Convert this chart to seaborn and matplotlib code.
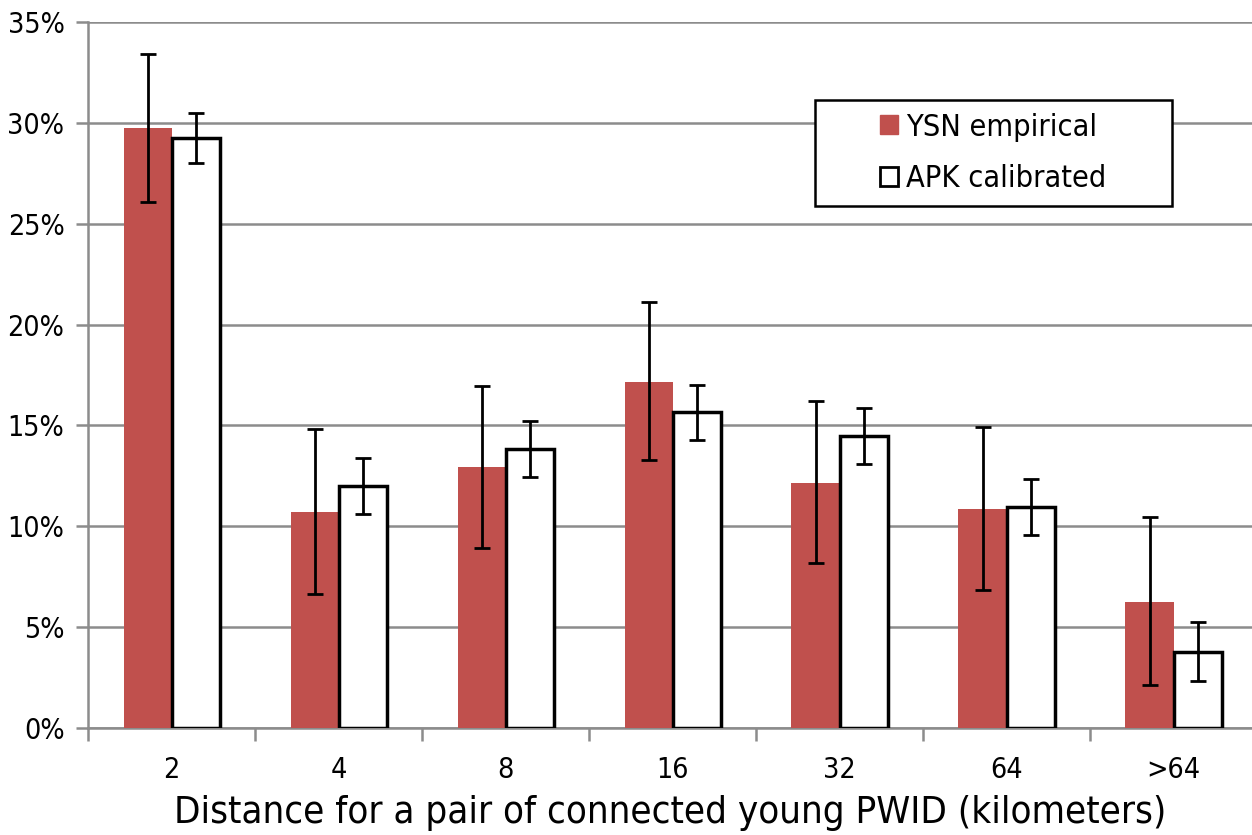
import numpy as np
import pandas as pd
import matplotlib
matplotlib.use("Agg")
import matplotlib.pyplot as plt
import seaborn as sns
from matplotlib.patches import Patch, Rectangle
from matplotlib.ticker import FuncFormatter, FixedLocator

sns.set_style("white")
plt.rcParams['font.family'] = ['DejaVu Sans']
plt.rcParams['font.stretch'] = 'condensed'
plt.rcParams['text.color'] = 'black'
plt.rcParams['axes.labelcolor'] = 'black'
plt.rcParams['xtick.color'] = 'black'
plt.rcParams['ytick.color'] = 'black'

# data (percent)
distances = ["2", "4", "8", "16", "32", "64", ">64"]
ysn_value = [29.75, 10.7, 12.95, 17.15, 12.15, 10.85, 6.25]
ysn_low = [26.1, 6.65, 8.9, 13.3, 8.2, 6.85, 2.15]
ysn_high = [33.4, 14.8, 16.95, 21.1, 16.2, 14.9, 10.45]
apk_value = [29.25, 12.0, 13.85, 15.65, 14.5, 10.95, 3.77]
apk_low = [28.0, 10.6, 12.45, 14.3, 13.1, 9.55, 2.33]
apk_high = [30.5, 13.4, 15.2, 17.0, 15.85, 12.35, 5.25]
series = ["YSN empirical", "APK calibrated"]

df = pd.DataFrame({
    "distance": distances * 2,
    "series": [series[0]] * 7 + [series[1]] * 7,
    "value": ysn_value + apk_value,
    "low": ysn_low + apk_low,
    "high": ysn_high + apk_high,
})

red = "#C0504D"
grid_gray = "#8C8C8C"

fig = plt.figure(figsize=(12.52, 8.35), dpi=100)
ax = fig.add_axes([0.0703, 0.1281, 0.9297, 0.8456])

sns.barplot(data=df, x="distance", y="value", hue="series", order=distances,
            hue_order=series, palette=[red, "white"], saturation=1,
            width=0.575, gap=0, errorbar=None, legend=False, ax=ax, zorder=3)

# style the white bars and add error bars
n = len(distances)
for i, p in enumerate(ax.patches[:2 * n]):
    if i >= n:
        p.set_edgecolor("black")
        p.set_linewidth(2.5)
    else:
        p.set_linewidth(0)
    row = df.iloc[i]
    xc = p.get_x() + p.get_width() / 2
    ax.errorbar(xc, row["value"],
                yerr=[[row["value"] - row["low"]], [row["high"] - row["value"]]],
                fmt="none", ecolor="black", elinewidth=2, capsize=6,
                capthick=2, zorder=5)

ax.set_ylim(0, 35)
ax.set_xlim(-0.5, 6.47)
ax.set_yticks(np.arange(0, 36, 5))
ax.yaxis.set_major_formatter(FuncFormatter(lambda v, _: f"{v:.0f}%"))
ax.grid(axis="y", color=grid_gray, linewidth=1.8, zorder=0)
ax.set_axisbelow(True)

for s in ["top", "right"]:
    ax.spines[s].set_visible(False)
for s in ["left", "bottom"]:
    ax.spines[s].set_color(grid_gray)
    ax.spines[s].set_linewidth(1.8)
    ax.spines[s].set_zorder(1)

ax.tick_params(axis="y", length=9, width=1.8, color=grid_gray, labelsize=20.5,
               labelcolor="black", pad=8, left=True)
ax.tick_params(axis="x", which="major", length=0, labelsize=20.5,
               labelcolor="black", pad=20)
ax.xaxis.set_minor_locator(FixedLocator(np.arange(-0.5, 6.6, 1)))
ax.tick_params(axis="x", which="minor", length=9, width=1.8, color=grid_gray,
               bottom=True, direction="out")

ax.set_xlabel("Distance for a pair of connected young PWID (kilometers)",
              fontsize=27.5, labelpad=8, color="black")
ax.set_ylabel("")

# legend box drawn separately so the entries sit centred in a wide frame
ax.add_patch(Rectangle((0.6246, 0.7394), 0.3067, 0.1501, transform=ax.transAxes,
                       facecolor="white", edgecolor="black", linewidth=1.8,
                       zorder=6))
handles = [Patch(facecolor=red, edgecolor=red, label=series[0]),
           Patch(facecolor="white", edgecolor="black", linewidth=2, label=series[1])]
leg = ax.legend(handles=handles, loc="center", bbox_to_anchor=(0.7775, 0.8144),
                fontsize=22, frameon=False, handlelength=0.6,
                handleheight=0.6, handletextpad=0.25, labelspacing=0.75,
                borderaxespad=0)
leg.set_zorder(7)

fig.savefig("out.png", dpi=100)
